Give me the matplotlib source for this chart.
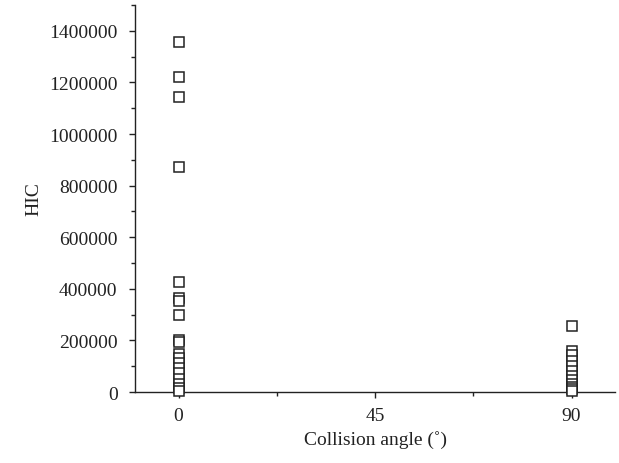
import matplotlib.pyplot as plt
from matplotlib.ticker import MultipleLocator, FuncFormatter

plt.rcParams['font.family'] = ['Liberation Serif', 'DejaVu Serif']

# HIC values for each collision angle
angle_0 = 0
hic_0 = [1355000, 1222000, 1145000, 872000, 428000, 365000, 352000, 300000,
         200000, 195000, 148000, 132000, 112000, 92000, 72000, 52000, 32000,
         15000, 4000]
angle_90 = 90
hic_90 = [255000, 160000, 142000, 122000, 100000, 80000, 62000, 46000,
          32000, 20000, 10000, 3000]

x_ticks = [0, 45, 90]

fig = plt.figure(figsize=(6.19, 4.64), dpi=100)
ax = fig.add_axes([0.218, 0.153, 0.776, 0.834])

ax.plot([angle_0] * len(hic_0), hic_0, 's', mfc='white', mec='#222222',
        mew=1.1, ms=7, clip_on=False, zorder=5)
ax.plot([angle_90] * len(hic_90), hic_90, 's', mfc='white', mec='#222222',
        mew=1.1, ms=7, clip_on=False, zorder=5)

ax.set_xlim(-10, 100)
ax.set_ylim(0, 1500000)
ax.set_xticks(x_ticks)
ax.xaxis.set_minor_locator(MultipleLocator(22.5))
ax.set_yticks(range(0, 1400001, 200000))
ax.yaxis.set_minor_locator(MultipleLocator(100000))
ax.yaxis.set_major_formatter(FuncFormatter(lambda v, p: f'{int(v)}'))

for side in ['top', 'right']:
    ax.spines[side].set_visible(False)
for side in ['left', 'bottom']:
    ax.spines[side].set_linewidth(1.0)
    ax.spines[side].set_color('#222222')

ax.tick_params(which='major', direction='out', length=4.5, width=1.0,
               labelsize=14, colors='#222222')
ax.tick_params(which='minor', direction='out', length=3, width=1.0,
               colors='#222222')
ax.tick_params(axis='y', which='major', pad=8)
ax.tick_params(axis='x', which='major', pad=6)

ax.set_xlabel('Collision angle (˚)', fontsize=14, labelpad=5, color='#222222')
ax.set_ylabel('HIC', fontsize=14, labelpad=5, color='#222222')

plt.savefig('out.png', dpi=100)
